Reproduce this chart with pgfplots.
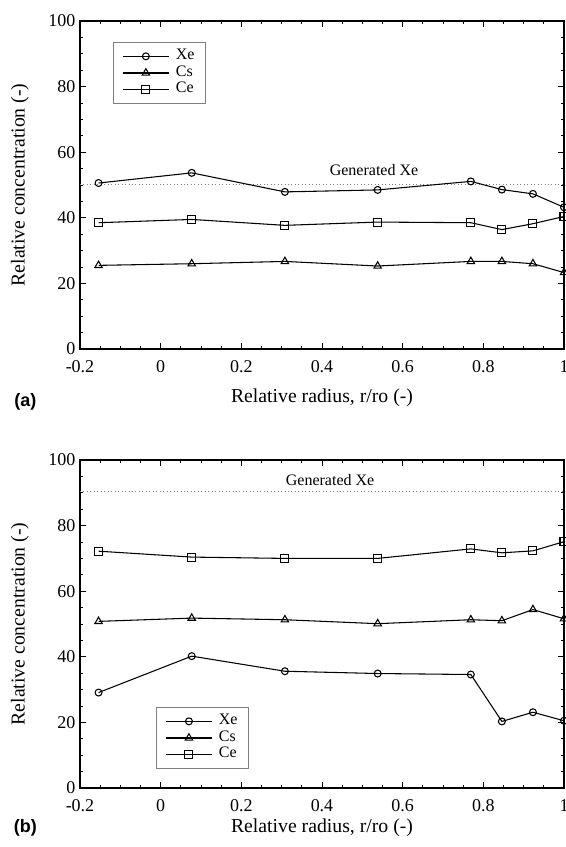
\documentclass[border=0pt]{standalone}
\usepackage{fontspec}
\setmainfont{Liberation Serif}
\newfontfamily\labfont{Liberation Sans}
\usepackage{pgfplots}
\pgfplotsset{compat=1.18}

% values; x in units of r/ro
\pgfplotstableread{
x       xe    cs    ce
-0.154  50.6  25.5  38.5
0.077   53.7  26.0  39.5
0.308   47.9  26.7  37.7
0.538   48.5  25.3  38.7
0.769   51.1  26.7  38.5
0.846   48.6  26.7  36.4
0.923   47.3  26.0  38.2
1.000   43.2  23.3  40.4
}\panelA
\pgfplotstableread{
x       xe    cs    ce
-0.154  29.1  50.8  72.2
0.077   40.2  51.8  70.4
0.308   35.6  51.3  70.0
0.538   34.9  50.1  70.0
0.769   34.6  51.3  72.9
0.846   20.3  51.0  71.7
0.923   23.1  54.4  72.3
1.000   20.5  51.6  75.1
}\panelB

\pgfplotsset{
  relconc/.style={
    width=363pt, height=246pt, scale only axis,
    xmin=-0.2, xmax=1, ymin=0, ymax=100,
    xtick={-0.2,0,...,1}, ytick={0,20,...,100},
    minor x tick num=3, minor y tick num=3,
    major tick length=4.5pt, minor tick length=2.5pt,
    tick align=inside,
    axis line style={line width=1.1pt},
    every tick/.style={black, line width=0.7pt},
    /pgf/number format/assume math mode=true,
    tick label style={font=\fontsize{13.5}{15}\selectfont},
    xticklabel style={yshift=-5pt},
    label style={font=\fontsize{14.8}{17}\selectfont},
    xlabel={Relative radius, r/ro (-)},
    ylabel={Relative concentration (-)},
    ylabel style={at={(axis description cs:-0.124,0.5)}, anchor=center},
    clip mode=individual,
    legend cell align=left,
    legend image code/.code={\draw[mark repeat=2,mark phase=2, line width=0.8pt]
      plot coordinates {(0cm,0cm) (0.6cm,0cm) (1.2cm,0cm)};},
    legend style={draw=gray, line width=0.5pt, inner xsep=7pt, inner ysep=5pt,
      font=\fontsize{12}{13}\selectfont, row sep=1.5pt, column sep=4pt,
      nodes={inner sep=1pt, text height=0.7em, text depth=0.2em}},
  },
  ser/.style={black, line width=0.8pt, mark options={fill=white, solid}},
}

\begin{document}
\begin{tikzpicture}
\begin{axis}[relconc, name=a,
    xlabel style={at={(axis description cs:0.5,-0.149)}, anchor=center},
    legend style={at={(0.068,0.936)}, anchor=north west}]
\addplot[gray, dotted, line width=0.6pt, forget plot] coordinates {(-0.2,50.3) (1,50.3)};
\addplot[ser, mark=o, mark size=2.6pt] table[x=x, y=xe] {\panelA};
\addplot[ser, mark=triangle, mark size=3.2pt] table[x=x, y=cs] {\panelA};
\addplot[ser, mark=square, mark size=3pt] table[x=x, y=ce] {\panelA};
\legend{Xe, Cs, Ce}
\node[font=\fontsize{12}{14}\selectfont] at (axis cs:0.529,54.6) {Generated Xe};
\end{axis}
\node[font=\labfont\bfseries\fontsize{13.5}{15}\selectfont] at (-41pt,-40pt) {(a)};

\begin{axis}[relconc, name=b, at={(0,-329.25pt)},
    xlabel style={at={(axis description cs:0.5,-0.122)}, anchor=center},
    legend style={at={(0.157,0.058)}, anchor=south west}]
\addplot[gray, dotted, line width=0.6pt, forget plot] coordinates {(-0.2,90.5) (1,90.5)};
\addplot[ser, mark=o, mark size=2.6pt] table[x=x, y=xe] {\panelB};
\addplot[ser, mark=triangle, mark size=3.2pt] table[x=x, y=cs] {\panelB};
\addplot[ser, mark=square, mark size=3pt] table[x=x, y=ce] {\panelB};
\legend{Xe, Cs, Ce}
\node[font=\fontsize{12}{14}\selectfont] at (axis cs:0.42,93.9) {Generated Xe};
\end{axis}
\node[font=\labfont\bfseries\fontsize{13.5}{15}\selectfont] at (-41pt,-359pt) {(b)};

\pgfresetboundingbox
\useasboundingbox (-60pt,-373.5pt) rectangle (364.5pt,261.75pt);
\end{tikzpicture}
\end{document}
